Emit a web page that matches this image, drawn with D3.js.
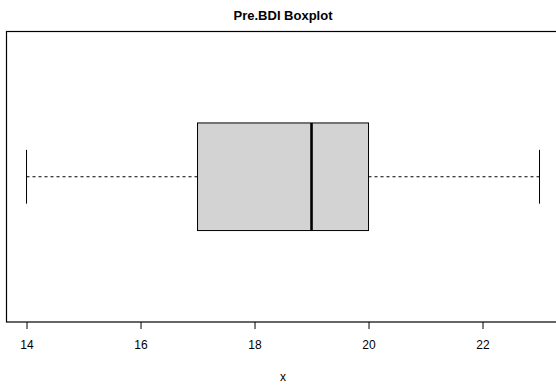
<!DOCTYPE html>
<html><head><meta charset="utf-8">
<script src="https://cdn.jsdelivr.net/npm/d3@7"></script>
<style>body{margin:0;background:#fff}svg{display:block;font-family:"Liberation Sans",Arial,sans-serif}</style>
</head><body>
<svg id="c" width="556" height="385"></svg>
<script>
const title = "Pre.BDI Boxplot";
const xLabel = "x";
const stats = [{min:14, q1:17, median:19, q3:20, max:23}];
const tickValues = [14, 16, 18, 20, 22];

const svg = d3.select("#c");
const mLeft = 6, mTop = 31.5, mBottom = 322;
const x = d3.scaleLinear().domain([13.64, 23.36]).range([mLeft, mLeft + 9.72*57]);
const y = d3.scaleLinear().domain([0.46, 1.54]).range([mBottom, mTop]);

svg.append("rect").attr("x", mLeft+0.5).attr("y", mTop).attr("width", 600).attr("height", mBottom-mTop)
  .attr("fill","none").attr("stroke","#000").attr("stroke-width",1.2);

stats.forEach((s,i)=>{
  const c = i+1;
  const g = svg.append("g");
  g.append("line").attr("x1",x(s.min)).attr("x2",x(s.q1)).attr("y1",y(c)).attr("y2",y(c))
    .attr("stroke","#000").attr("stroke-dasharray","3,3");
  g.append("line").attr("x1",x(s.q3)).attr("x2",x(s.max)).attr("y1",y(c)).attr("y2",y(c))
    .attr("stroke","#000").attr("stroke-dasharray","3,3");
  [s.min, s.max].forEach(v=>{
    g.append("line").attr("x1",x(v)).attr("x2",x(v)).attr("y1",y(c-0.1)).attr("y2",y(c+0.1))
      .attr("stroke","#000");
  });
  g.append("rect").attr("x",x(s.q1)).attr("y",y(c+0.2)).attr("width",x(s.q3)-x(s.q1))
    .attr("height",y(c-0.2)-y(c+0.2)).attr("fill","#d3d3d3").attr("stroke","#000");
  g.append("line").attr("x1",x(s.median)).attr("x2",x(s.median)).attr("y1",y(c+0.2)).attr("y2",y(c-0.2))
    .attr("stroke","#000").attr("stroke-width",2.6);
});

const ax = svg.append("g").attr("transform",`translate(0,${mBottom})`)
  .call(d3.axisBottom(x).tickValues(tickValues).tickSize(7).tickPadding(11).tickFormat(d3.format("d")));
ax.select(".domain").remove();
ax.selectAll("text").attr("font-size",12).attr("fill","#000").attr("font-family","Liberation Sans, Arial, sans-serif");
ax.selectAll("line").attr("stroke","#000");

svg.append("text").attr("x",x(18.5)).attr("y",381).attr("text-anchor","middle")
  .attr("font-size",12).text(xLabel);
svg.append("text").attr("x",x(18.5)).attr("y",20).attr("text-anchor","middle")
  .attr("font-size",13).attr("font-weight","bold").text(title);
</script>
</body></html>
